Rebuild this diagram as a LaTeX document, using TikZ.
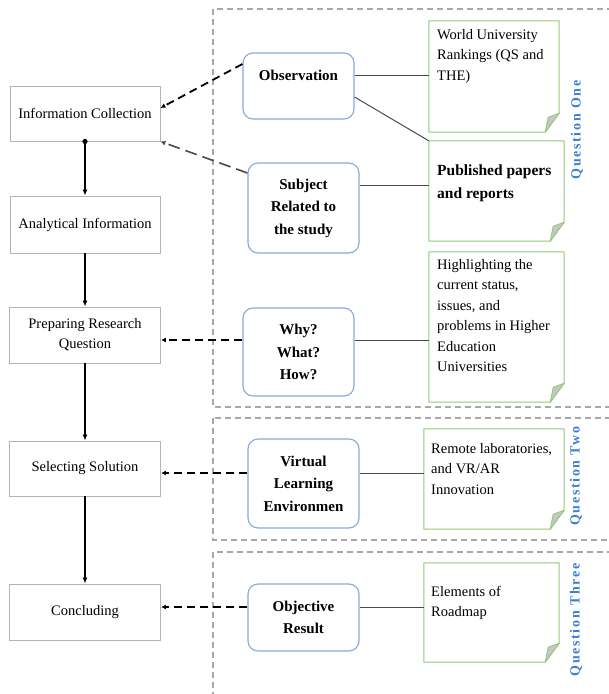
\documentclass[tikz,border=0pt]{standalone}
\usepackage{fontspec}
\setmainfont{Liberation Serif}
\usetikzlibrary{arrows.meta,calc}

\definecolor{frameGrey}{HTML}{A8A8A8}
\definecolor{boxGrey}{HTML}{B4B4B4}
\definecolor{blueEdge}{HTML}{86A9DC}
\definecolor{noteGreen}{HTML}{93C977}
\definecolor{foldGrey}{HTML}{C6C6C6}
\definecolor{qBlue}{HTML}{3D80D3}
\definecolor{linkGrey}{HTML}{4A4A4A}

% sticky note outline with a folded bottom-right corner
\newcommand\foldnote[1]{%
  \draw[noteGreen, line width=1pt, fill=white, line join=round]
    (#1.north west) -- (#1.north east) -- ($(#1.south east)+(0,-19)$)
    -- ($(#1.south east)+(-14,0)$) -- (#1.south west) -- cycle;
  \draw[noteGreen, line width=0.8pt, fill=foldGrey, line join=round]
    ($(#1.south east)+(0,-19)$) -- ($(#1.south east)+(-11,-15)$)
    .. controls ($(#1.south east)+(-13,-8)$) .. ($(#1.south east)+(-14,0)$) -- cycle;
}

\begin{document}
\begin{tikzpicture}[x=1pt,y=-1pt,
  stepbox/.style={draw=boxGrey, line width=0.9pt, align=center, inner sep=0pt,
    font=\fontsize{14.5}{20}\selectfont},
  topic/.style={draw=blueEdge, line width=1.1pt, rounded corners=10pt, align=center,
    inner sep=0pt, font=\bfseries\fontsize{15}{22.5}\selectfont},
  notebox/.style={draw=none, inner sep=0pt},
  notetext/.style={anchor=north west, align=left, inner sep=0pt,
    font=\fontsize{14.5}{20.5}\selectfont},
  qlabel/.style={rotate=90, text=qBlue,
    font=\bfseries\fontsize{14}{16}\selectfont\addfontfeature{LetterSpace=12}},
  region/.style={draw=frameGrey, line width=1.4pt, dash pattern=on 6pt off 4pt},
  flow/.style={draw=black, line width=1.3pt, -{Latex[length=6pt,width=5pt]}},
  feed/.style={draw=black, line width=1.8pt, dash pattern=on 8pt off 5pt,
    -{Latex[length=5pt,width=5pt]}},
  link/.style={draw=linkGrey, line width=1pt}
]
\useasboundingbox (0,0) rectangle (609,694);
\clip (0,0) rectangle (609,694);

% question regions
\draw[region] (213,9) rectangle (640,407);
\draw[region] (213,418) rectangle (640,540);
\draw[region] (213,552) rectangle (640,720);

% research steps
\node[stepbox, minimum width=150pt, minimum height=55pt] (info) at (85,113.5) {Information Collection};
\node[stepbox, minimum width=150pt, minimum height=57pt] (anal) at (85,224.5) {Analytical Information};
\node[stepbox, minimum width=151pt, minimum height=56pt] (prep) at (85,335) {Preparing Research\\Question};
\node[stepbox, minimum width=151pt, minimum height=55pt] (sel) at (85,468.5) {Selecting Solution};
\node[stepbox, minimum width=151pt, minimum height=56pt] (conc) at (85,612) {Concluding};

% topics
\node[topic, minimum width=111pt, minimum height=66pt] (obs) at (298.5,86) {};
\node[font=\bfseries\fontsize{15}{18}\selectfont] (obsT) at (298.5,75) {Observation};
\node[topic, minimum width=111pt, minimum height=90pt] (subj) at (303.5,208) {Subject\\Related to\\the study};
\node[topic, minimum width=111pt, minimum height=88pt] (why) at (298.5,352) {Why?\\What?\\How?};
\node[topic, minimum width=111pt, minimum height=89pt] (virt) at (303.5,483.5) {Virtual\\Learning\\Environmen};
\node[topic, minimum width=111pt, minimum height=67pt] (obj) at (303.5,617.5) {Objective\\Result};

% notes
\node[notebox, minimum width=130pt, minimum height=111pt] (world) at (494,76.5) {};
\node[notebox, minimum width=135pt, minimum height=100pt] (pub) at (496.5,191) {};
\node[notebox, minimum width=135pt, minimum height=150pt] (high) at (496.5,327) {};
\node[notebox, minimum width=140pt, minimum height=100pt] (remote) at (494,479) {};
\node[notebox, minimum width=135pt, minimum height=99pt] (elem) at (491.5,612.5) {};
\foldnote{world}
\foldnote{pub}
\foldnote{high}
\foldnote{remote}
\foldnote{elem}
\node[notetext] (worldT) at (437,29) {World University\\Rankings (QS and\\THE)};
\node[notetext, font=\bfseries\fontsize{15.5}{23}\selectfont] (pubT) at (437,165) {Published papers\\and reports};
\node[notetext] (highT) at (437,259) {Highlighting the\\current status,\\issues, and\\problems in Higher\\Education\\Universities};
\node[notetext] (remoteT) at (431,443) {Remote laboratories,\\and VR/AR\\Innovation};
\node[notetext] (elemT) at (431,586) {Elements of\\Roadmap};

% question labels
\node[qlabel] (q1) at (577,130) {Question One};
\node[qlabel] (q2) at (576,476) {Question Two};
\node[qlabel] (q3) at (576,620) {Question Three};

% main flow
\fill (info.south) circle (2.6pt);
\draw[flow] (info.south) -- (anal.north);
\draw[flow] (anal.south) -- (prep.north);
\draw[flow] (prep.south) -- (sel.north);
\draw[flow] (sel.south) -- (conc.north);

% feedback from topics
\draw[feed] ([yshift=22pt]obs.west) -- ([yshift=5.5pt]info.east);
\draw[feed, draw=linkGrey, line width=1.6pt, dash pattern=on 12pt off 6pt] ([yshift=35pt]subj.west) -- (info.south east);
\draw[feed] ([yshift=12pt]why.west) -- ([yshift=12pt]why.west -| prep.east);
\draw[feed] ([yshift=10.5pt]virt.west) -- ([yshift=10.5pt]virt.west -| sel.east);
\draw[feed] ([yshift=10.5pt]obj.west) -- ([yshift=10.5pt]obj.west -| conc.east);

% links to notes
\draw[link] ([yshift=11pt]obs.east) -- ([yshift=11pt]obs.east -| world.west);
\draw[link] ([yshift=-11pt]obs.east) -- (pub.north west);
\draw[link] ([yshift=23pt]subj.east) -- ([yshift=23pt]subj.east -| pub.west);
\draw[link] ([yshift=12pt]why.east) -- ([yshift=12pt]why.east -| high.west);
\draw[link] ([yshift=10.5pt]virt.east) -- ([yshift=10.5pt]virt.east -| remote.west);
\draw[link] ([yshift=10.5pt]obj.east) -- ([yshift=10.5pt]obj.east -| elem.west);
\end{tikzpicture}
\end{document}
